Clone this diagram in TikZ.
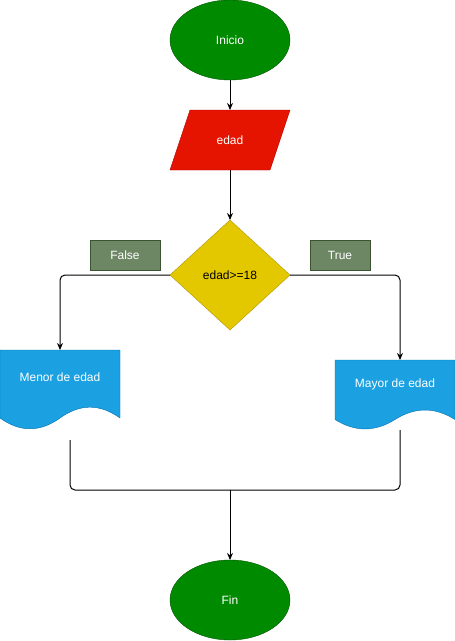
\documentclass[tikz,border=0pt]{standalone}
\usepackage{fontspec}
\setmainfont{Liberation Sans}
\usetikzlibrary{shapes.geometric, arrows.meta}

\definecolor{verdeini}{HTML}{008A00}
\definecolor{verdeinib}{HTML}{005700}
\definecolor{rojo}{HTML}{E51400}
\definecolor{rojob}{HTML}{B20000}
\definecolor{amarillo}{HTML}{E3C800}
\definecolor{amarillob}{HTML}{B09500}
\definecolor{azul}{HTML}{1BA1E2}
\definecolor{azulb}{HTML}{006EAF}
\definecolor{oliva}{HTML}{6D8764}
\definecolor{olivab}{HTML}{3A5431}

\tikzset{
	texto/.style = {font=\fontsize{12}{14}\selectfont, inner sep=0pt, outer sep=0pt},
	terminal/.style = {texto, ellipse, draw=verdeinib, fill=verdeini, text=white, minimum width=120pt, minimum height=80pt},
	decision/.style = {texto, diamond, draw=amarillob, fill=amarillo, text=black, minimum width=120pt, minimum height=110pt},
	etiqueta/.style = {texto, rectangle, draw=olivab, fill=oliva, text=white, minimum height=30pt},
	caja/.style = {texto, rectangle, minimum width=120pt},
	hoja/.style = {draw=azulb, fill=azul},
	flecha/.style = {line width=1pt, -{Stealth[length=7pt, width=6pt]}},
	linea/.style = {line width=1pt, rounded corners=5pt}
}

\begin{document}
\begin{tikzpicture} [x = 1pt, y = -1pt]
		\useasboundingbox (0,0) rectangle (455,641);
		% nodos
		\node [terminal] (inicio) at (230,40) {Inicio};
		\draw [draw=rojob, fill=rojo] (190,110) -- (290,110) -- (270,170) -- (170,170) -- cycle;
		\node [caja, minimum height=60pt, text=white] (edad) at (230,140) {edad};
		\node [decision] (cond) at (230,275) {edad>=18};
		\node [etiqueta, minimum width=70pt] (falso) at (125,255) {False};
		\node [etiqueta, minimum width=60pt] (verdad) at (340,255) {True};
		\node [caja, minimum height=80pt] (menor) at (60,390) {};
		\node [caja, minimum height=70pt] (mayor) at (395,395) {};
		\node [terminal] (fin) at (230,600) {Fin};
		% documentos
		\draw [hoja, shift={(menor.north west)}] (0,0) -- (120,0) -- (120,68)
			.. controls (100,53.6) and (80,53.6) .. (60,68)
			.. controls (40,82.4) and (20,82.4) .. (0,68) -- cycle;
		\draw [hoja, shift={(mayor.north west)}] (0,0) -- (120,0) -- (120,59.5)
			.. controls (100,46.9) and (80,46.9) .. (60,59.5)
			.. controls (40,72.1) and (20,72.1) .. (0,59.5) -- cycle;
		\node [texto, text=white] (menortxt) at (60,377) {Menor de edad};
		\node [texto, text=white] (mayortxt) at (395,384) {Mayor de edad};
		% conectores
		\coordinate (menorsal) at (70,440);
		\coordinate (mayorsal) at (400,430);
		\coordinate (junta) at (230,490);
		\draw [flecha] (inicio) -- (edad);
		\draw [flecha] (edad) -- (cond);
		\draw [flecha, linea] (cond.west) -| (menor.north);
		\draw [flecha, linea] (cond.east) -| ([xshift=5pt]mayor.north);
		\draw [linea] (menorsal) |- (junta);
		\draw [linea] (mayorsal) |- (junta);
		\draw [flecha] (junta) -- (fin);
	\end{tikzpicture}
\end{document}
